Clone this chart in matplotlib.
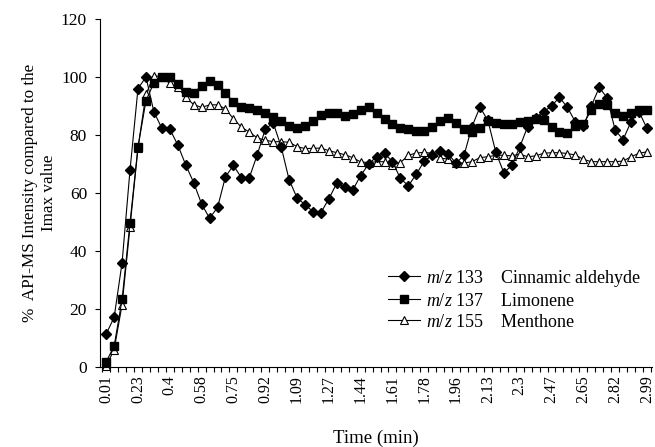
import numpy as np
import matplotlib
matplotlib.use('Agg')
import matplotlib.pyplot as plt

plt.rcParams['font.family'] = ['Liberation Serif', 'DejaVu Serif']
plt.rcParams['mathtext.fontset'] = 'custom'
plt.rcParams['mathtext.rm'] = 'Liberation Serif'
plt.rcParams['mathtext.it'] = 'Liberation Serif:italic'

# tick labels shown every 4th sample (time, min)
tick_labels = ['0.01', '0.23', '0.4', '0.58', '0.75', '0.92', '1.09', '1.27', '1.44',
               '1.61', '1.78', '1.96', '2.13', '2.3', '2.47', '2.65', '2.82', '2.99']

# m/z 133 Cinnamic aldehyde
cinnamic = [11.4, 17.1, 36, 68, 96, 100, 88, 82.3, 82, 76.6, 69.7, 63.6, 56.2, 51.3, 55,
            65.6, 69.5, 65.3, 65.3, 73.2, 82, 84.2, 76, 64.6, 58.3, 56, 53.6, 53.2, 58,
            63.4, 62, 61, 66, 70, 72.5, 73.7, 70.8, 65, 62.5, 66.5, 71, 73, 74.6, 73.4,
            70.3, 73, 82.9, 89.6, 85, 74, 67, 69.5, 75.8, 82.9, 86, 88, 90, 93, 89.5,
            84.5, 83, 90, 96.4, 92.8, 81.7, 78.4, 84.6, 88, 82.3]

# m/z 137 Limonene
limonene = [1.8, 7.2, 23.3, 49.8, 75.8, 91.8, 98, 100.1, 99.9, 97.6, 94.9, 94.6, 96.9,
            98.7, 97.2, 94.4, 91.5, 89.8, 89.2, 88.6, 87.5, 86.1, 84.7, 83.1, 82.3, 83.2,
            84.7, 86.9, 87.7, 87.5, 86.6, 87.1, 88.6, 89.8, 87.7, 85.4, 83.8, 82.5, 82,
            81.5, 81.4, 82.6, 84.9, 85.7, 84.2, 82, 81.2, 82.4, 84.9, 84, 83.8, 83.8, 84.6,
            84.9, 85.5, 85, 82.6, 81.1, 80.7, 83.1, 83.7, 88.6, 90.7, 90.3, 87.7, 86.7,
            87.6, 88.6, 88.6]

# m/z 155 Menthone
menthone = [0.3, 6, 21.5, 48.4, 75.6, 94, 100.5, 100, 97.8, 96.4, 93, 90.5, 89.5, 90.4,
            90.4, 89, 85.6, 82.7, 81, 79, 78.2, 77.7, 77.7, 77.5, 76, 75.3, 75.4, 75.5,
            74.6, 73.9, 73.2, 72.2, 70.7, 70.5, 70.8, 70.8, 69.8, 70.5, 73, 73.8, 74, 73.7,
            72, 71.7, 70.3, 70.3, 70.8, 72.2, 72.5, 73, 73, 72.8, 73.4, 72.5, 72.8, 73.7,
            73.9, 73.9, 73.6, 73.1, 71.6, 70.8, 70.8, 70.8, 70.8, 71, 72.5, 73.7, 74.2]

x = np.arange(len(cinnamic))

fig = plt.figure(figsize=(6.55, 4.47), dpi=100)
ax = fig.add_axes([0.153, 0.179, 0.842, 0.7785])

ax.plot(x, cinnamic, color='black', lw=0.8, marker='D', ms=5.3, mfc='black', mec='black',
        label=r'$m/z$ 133    Cinnamic aldehyde', zorder=3, clip_on=False)
ax.plot(x, limonene, color='black', lw=0.8, marker='s', ms=5.5, mfc='black', mec='black',
        label=r'$m/z$ 137    Limonene', zorder=4, clip_on=False)
ax.plot(x, menthone, color='black', lw=0.8, marker='^', ms=6, mfc='white', mec='black',
        mew=0.8, label=r'$m/z$ 155    Menthone', zorder=2, clip_on=False)

ax.set_xlim(-0.75, 68.6)
ax.set_ylim(0, 120)
ax.set_yticks(np.arange(0, 121, 20))
ax.set_xticks(x[::4])
ax.set_xticklabels(tick_labels, rotation=90)
ax.set_xticks(np.arange(-0.5, 68.6, 1), minor=True)

ax.tick_params(axis='x', which='major', length=0, pad=6, labelsize=11.5)
ax.tick_params(axis='x', which='minor', length=3.5, width=0.8, direction='out')
ax.tick_params(axis='y', length=3.5, width=0.8, pad=6, labelsize=12.5)

for s in ['top', 'right']:
    ax.spines[s].set_visible(False)
for s in ['left', 'bottom']:
    ax.spines[s].set_linewidth(0.8)

ax.set_ylabel('%  API-MS Intensity compared to the\nImax value', fontsize=12.3, labelpad=3)
ax.set_xlabel('Time (min)', fontsize=13.5, labelpad=19)

ax.legend(loc='upper left', bbox_to_anchor=(0.522, 0.285), frameon=False, fontsize=13,
          handlelength=1.75, handletextpad=0.35, labelspacing=0.22, borderpad=0,
          borderaxespad=0)

fig.savefig('out.png', dpi=100)
